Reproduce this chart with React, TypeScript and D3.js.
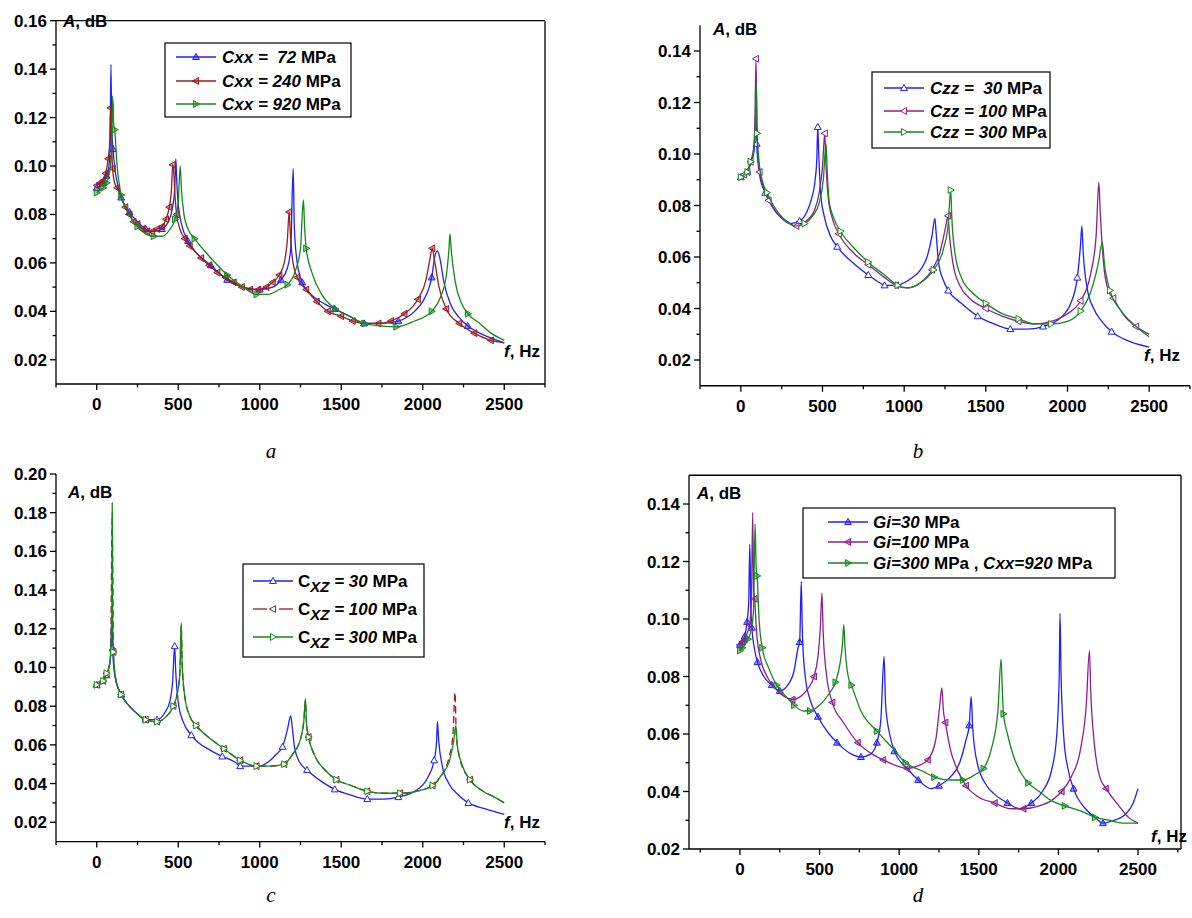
import React from 'react';
import * as d3 from 'd3';

// ---------------- DATA ----------------
// each point: [frequency Hz, amplitude dB, marker flag]
const xTickValues = [0, 500, 1000, 1500, 2000, 2500];
const xMinorValues = [-250, 250, 750, 1250, 1750, 2250, 2750];

const yTicksA = [0.02, 0.04, 0.06, 0.08, 0.1, 0.12, 0.14, 0.16];
const yTicksB = [0.02, 0.04, 0.06, 0.08, 0.1, 0.12, 0.14];
const yTicksC = [0.02, 0.04, 0.06, 0.08, 0.1, 0.12, 0.14, 0.16, 0.18, 0.2];
const yTicksD = [0.02, 0.04, 0.06, 0.08, 0.1, 0.12, 0.14];

// Panel a
const aBlue = [[0,0.091,1],[20,0.0915],[40,0.093,1],[60,0.096,1],[75,0.100],[82,0.108],[87,0.142],[92,0.115],[100,0.107,1],[115,0.097],[130,0.092],[150,0.087,1],[200,0.081,1],[250,0.077],[300,0.074,1],[350,0.073],[400,0.074,1],[440,0.077],[465,0.083],[478,0.090],[485,0.103],[490,0.095],[500,0.084],[520,0.076],[560,0.069,1],[600,0.065],[700,0.059,1],[800,0.053,1],[900,0.050],[1000,0.049,1],[1080,0.050],[1130,0.053,1],[1170,0.058],[1190,0.066],[1205,0.099],[1212,0.075],[1230,0.060],[1260,0.052,1],[1300,0.048],[1400,0.043],[1460,0.041,1],[1550,0.038],[1640,0.035,1],[1750,0.035],[1850,0.036,1],[1950,0.040],[2000,0.044],[2040,0.050],[2055,0.054,1],[2075,0.063],[2090,0.065],[2105,0.062],[2130,0.052],[2170,0.043],[2230,0.037],[2275,0.034,1],[2350,0.031],[2500,0.027]];
const aRed = [[0,0.092,1],[20,0.093,1],[40,0.094,1],[55,0.097,1],[70,0.103,1],[80,0.110],[85,0.124,1],[90,0.112],[97,0.099,1],[110,0.093],[125,0.091,1],[150,0.087],[175,0.083,1],[200,0.080,1],[225,0.077,1],[250,0.076,1],[280,0.074,1],[310,0.073,1],[340,0.073,1],[370,0.074,1],[400,0.075,1],[425,0.078,1],[445,0.083,1],[458,0.090],[466,0.1005,1],[472,0.098],[478,0.090],[490,0.080,1],[510,0.074],[540,0.070,1],[570,0.067,1],[600,0.065],[640,0.062,1],[690,0.059,1],[740,0.056,1],[790,0.054,1],[840,0.052,1],[890,0.050,1],[940,0.049,1],[990,0.049,1],[1040,0.050,1],[1080,0.052,1],[1120,0.055,1],[1150,0.060],[1170,0.070],[1180,0.081,1],[1188,0.072],[1200,0.062],[1230,0.054,1],[1285,0.049,1],[1350,0.044,1],[1417,0.040,1],[1499,0.038,1],[1570,0.036,1],[1650,0.035],[1728,0.035,1],[1805,0.036,1],[1888,0.039,1],[1970,0.045,1],[2020,0.053],[2045,0.062],[2058,0.066,1],[2070,0.062],[2100,0.050],[2144,0.041,1],[2224,0.035,1],[2316,0.031,1],[2418,0.028,1],[2500,0.027]];
const aGreen = [[0,0.089,1],[20,0.090],[40,0.091,1],[60,0.093,1],[80,0.098],[90,0.105],[98,0.129],[103,0.118],[110,0.115,1],[125,0.100],[150,0.088,1],[200,0.080],[250,0.075,1],[300,0.072],[350,0.071,1],[400,0.071],[450,0.074],[480,0.078,1],[500,0.085],[512,0.100],[520,0.090],[535,0.080],[560,0.074],[600,0.070,1],[700,0.062],[800,0.055,1],[900,0.050],[980,0.047,1],[1050,0.047],[1120,0.049],[1170,0.051,1],[1220,0.057],[1250,0.066],[1268,0.086],[1275,0.075],[1285,0.066,1],[1320,0.056],[1380,0.047],[1464,0.041,1],[1550,0.038],[1642,0.035,1],[1740,0.034],[1838,0.0336,1],[1950,0.036],[2055,0.040,1],[2110,0.046],[2145,0.055],[2160,0.065],[2167,0.072],[2175,0.065],[2200,0.052],[2240,0.043],[2277,0.039,1],[2350,0.035],[2420,0.031],[2500,0.028]];

// Panel b
const bBlue = [[0,0.091,1],[20,0.0915],[40,0.093,1],[60,0.096],[75,0.099],[85,0.104],[92,0.118],[97,0.104,1],[105,0.097],[120,0.090],[150,0.085,1],[200,0.079],[250,0.075],[300,0.073],[360,0.074,1],[400,0.077],[430,0.082],[455,0.090],[465,0.098],[471,0.1105,1],[477,0.100],[490,0.084],[510,0.076],[550,0.068],[590,0.064,1],[700,0.057],[780,0.053,1],[850,0.050],[880,0.049,1],[950,0.049],[1000,0.050],[1050,0.052],[1100,0.055],[1140,0.060],[1170,0.068],[1188,0.075],[1195,0.070],[1210,0.058],[1240,0.051],[1270,0.047,1],[1350,0.042],[1450,0.037,1],[1550,0.034],[1650,0.032,1],[1750,0.032],[1850,0.033,1],[1950,0.036],[2020,0.042],[2060,0.052,1],[2080,0.065],[2088,0.072],[2095,0.063],[2120,0.048],[2160,0.040],[2210,0.035],[2270,0.031,1],[2350,0.028],[2500,0.025]];
const bPurple = [[0,0.091],[20,0.092,1],[40,0.093,1],[60,0.097,1],[75,0.100],[85,0.110],[93,0.137,1],[98,0.112],[105,0.100],[115,0.093,1],[140,0.087],[170,0.082,1],[220,0.077],[280,0.074],[340,0.072,1],[400,0.074],[450,0.078],[480,0.085],[500,0.095],[514,0.108,1],[520,0.098],[535,0.083],[560,0.075],[600,0.069,1],[700,0.061],[780,0.057,1],[880,0.052],[950,0.049,1],[1020,0.048],[1100,0.050],[1170,0.055,1],[1220,0.062],[1255,0.072],[1268,0.076,1],[1278,0.068],[1300,0.057],[1340,0.049],[1400,0.044],[1500,0.040,1],[1600,0.037],[1700,0.035,1],[1800,0.034],[1900,0.035],[2000,0.038],[2080,0.043,1],[2140,0.053],[2175,0.068],[2192,0.089],[2200,0.078],[2220,0.058],[2250,0.047],[2280,0.044,1],[2350,0.037],[2420,0.033,1],[2500,0.030]];
const bGreen = [[0,0.091,1],[20,0.092],[40,0.093,1],[60,0.097,1],[80,0.103],[90,0.112],[95,0.127],[100,0.108,1],[110,0.098],[130,0.090],[160,0.085,1],[200,0.080],[260,0.075],[330,0.072],[390,0.073,1],[440,0.076],[480,0.081],[505,0.090],[522,0.104],[528,0.095],[540,0.082],[570,0.075],[610,0.070,1],[700,0.063],[780,0.058,1],[880,0.053],[960,0.049,1],[1020,0.048],[1100,0.050],[1180,0.055,1],[1240,0.063],[1270,0.073],[1285,0.086,1],[1292,0.075],[1310,0.062],[1350,0.052],[1420,0.046],[1500,0.042,1],[1600,0.038],[1700,0.036,1],[1800,0.034],[1900,0.034,1],[2000,0.035],[2080,0.039,1],[2140,0.046],[2190,0.058],[2213,0.066],[2225,0.058],[2260,0.047,1],[2330,0.039],[2420,0.033],[2500,0.029]];

// Panel c
const cBlue = [[0,0.091,1],[20,0.0915],[40,0.093],[60,0.096,1],[75,0.100],[85,0.106],[92,0.125],[97,0.110,1],[105,0.100],[120,0.092],[150,0.086,1],[200,0.080],[250,0.076],[300,0.073,1],[370,0.073,1],[420,0.077],[450,0.083],[465,0.092],[478,0.111,1],[485,0.097],[500,0.082],[530,0.072],[580,0.065,1],[700,0.057],[770,0.054,1],[850,0.051],[880,0.049,1],[950,0.049],[1000,0.049],[1050,0.051],[1100,0.055],[1140,0.059,1],[1170,0.068],[1190,0.075],[1198,0.070],[1215,0.058],[1245,0.051],[1290,0.047,1],[1380,0.041],[1460,0.037,1],[1560,0.034],[1660,0.032,1],[1760,0.032],[1850,0.033,1],[1950,0.036],[2030,0.043],[2070,0.052,1],[2085,0.062],[2090,0.072],[2098,0.062],[2120,0.049],[2160,0.040],[2220,0.034],[2280,0.030,1],[2380,0.027],[2500,0.024]];
const cRed = [[0,0.091,1],[20,0.092],[40,0.093,1],[60,0.097,1],[75,0.100],[85,0.107],[95,0.180],[102,0.108,1],[115,0.095],[150,0.086,1],[200,0.080],[250,0.076],[300,0.073,1],[370,0.072,1],[430,0.075],[470,0.080,1],[495,0.087],[510,0.097],[518,0.122],[524,0.102],[540,0.085],[570,0.075],[610,0.070,1],[700,0.063],[780,0.058,1],[880,0.052,1],[980,0.049,1],[1060,0.049],[1150,0.050,1],[1200,0.055],[1250,0.063],[1272,0.074],[1280,0.083],[1287,0.071],[1300,0.064,1],[1340,0.054],[1400,0.047],[1470,0.042,1],[1560,0.039],[1660,0.036,1],[1760,0.035],[1860,0.035,1],[1960,0.036],[2060,0.039,1],[2120,0.045],[2160,0.053],[2185,0.065],[2198,0.087],[2206,0.065],[2230,0.052],[2290,0.042,1],[2370,0.036],[2440,0.033],[2500,0.030]];
const cGreen = [[0,0.091,1],[20,0.092],[40,0.093,1],[60,0.097,1],[75,0.100],[85,0.107],[92,0.125],[95,0.185],[98,0.125],[102,0.108,1],[115,0.095],[150,0.086,1],[200,0.080],[250,0.076],[300,0.073,1],[370,0.072,1],[430,0.075],[470,0.080,1],[495,0.087],[510,0.097],[518,0.123],[524,0.102],[540,0.085],[570,0.075],[610,0.070,1],[700,0.063],[780,0.058,1],[880,0.052,1],[980,0.049,1],[1060,0.049],[1150,0.050,1],[1200,0.055],[1250,0.063],[1272,0.074],[1280,0.084],[1287,0.071],[1300,0.064,1],[1340,0.054],[1400,0.047],[1470,0.042,1],[1560,0.039],[1660,0.036,1],[1760,0.035],[1860,0.035,1],[1960,0.036],[2060,0.039,1],[2120,0.045],[2165,0.052],[2190,0.062],[2203,0.070],[2212,0.060],[2240,0.050],[2290,0.042,1],[2370,0.036],[2440,0.033],[2500,0.030]];

// Panel d
const dBlue = [[0,0.091,1],[15,0.092,1],[30,0.094,1],[45,0.099,1],[55,0.106],[62,0.126],[68,0.105],[75,0.097,1],[90,0.090],[110,0.085,1],[150,0.080],[200,0.077,1],[250,0.075,1],[300,0.077],[340,0.082],[365,0.090],[375,0.092,1],[385,0.113],[392,0.095],[410,0.080],[440,0.072],[490,0.066,1],[560,0.060],[610,0.057,1],[700,0.053],[760,0.052,1],[820,0.053],[860,0.057,1],[885,0.065],[905,0.087],[915,0.070],[940,0.060],[970,0.054,1],[1050,0.048],[1120,0.044,1],[1200,0.041],[1250,0.042,1],[1320,0.045],[1380,0.050],[1420,0.058],[1440,0.063,1],[1452,0.073],[1462,0.062],[1490,0.050],[1550,0.042],[1600,0.039],[1680,0.036,1],[1760,0.034],[1830,0.036,1],[1900,0.040],[1960,0.048],[1990,0.060],[2005,0.080],[2010,0.102],[2017,0.080],[2035,0.058],[2060,0.048],[2095,0.041,1],[2170,0.034],[2230,0.031],[2280,0.029,1],[2350,0.030],[2420,0.032],[2470,0.036],[2500,0.041]];
const dPurple = [[0,0.091,1],[15,0.092,1],[30,0.093,1],[45,0.095],[60,0.098,1],[72,0.106],[80,0.137],[86,0.110],[92,0.107,1],[105,0.095],[130,0.086],[170,0.080],[220,0.076],[280,0.073],[330,0.072,1],[380,0.073],[430,0.076],[465,0.080,1],[490,0.087],[505,0.097],[515,0.109],[523,0.095],[545,0.080],[580,0.071,1],[650,0.064],[740,0.057,1],[830,0.053],[900,0.051,1],[980,0.049],[1050,0.048,1],[1120,0.049],[1180,0.051,1],[1230,0.058],[1255,0.070],[1268,0.076],[1278,0.068],[1290,0.064,1],[1320,0.055],[1370,0.047],[1420,0.042,1],[1500,0.038],[1600,0.036,1],[1700,0.034],[1780,0.034,1],[1880,0.035],[1960,0.037],[2020,0.040,1],[2080,0.045],[2140,0.055],[2175,0.070],[2195,0.089],[2203,0.075],[2225,0.057],[2260,0.045],[2300,0.041,1],[2380,0.035],[2440,0.031],[2500,0.029]];
const dGreen = [[0,0.089,1],[15,0.090,1],[30,0.091],[50,0.093,1],[70,0.096],[85,0.103],[95,0.133],[102,0.118],[108,0.115,1],[120,0.100],[140,0.090,1],[180,0.083],[230,0.077,1],[290,0.073],[340,0.070,1],[400,0.068],[440,0.068,1],[500,0.070],[560,0.074],[600,0.078,1],[630,0.085],[645,0.092],[652,0.098],[660,0.090],[680,0.080],[700,0.077,1],[760,0.068],[860,0.061,1],[960,0.055],[1040,0.050,1],[1150,0.047],[1220,0.045,1],[1320,0.044],[1400,0.044,1],[1480,0.046],[1530,0.048,1],[1580,0.055],[1620,0.068],[1640,0.086],[1648,0.075],[1655,0.067,1],[1680,0.060],[1720,0.052],[1770,0.046],[1810,0.043,1],[1880,0.040],[1950,0.037],[2040,0.035,1],[2150,0.033],[2230,0.031,1],[2320,0.030],[2400,0.029],[2500,0.029]];

const legendA = ['Cxx =\u00a0 72', 'Cxx = 240', 'Cxx = 920'];
const legendB = ['Czz =\u00a0 30', 'Czz = 100', 'Czz = 300'];
const legendC = ['30', '100', '300'];
const legendD = ['Gi=30', 'Gi=100', 'Gi=300'];
const unitLabel = 'MPa';
const captions = ['a', 'b', 'c', 'd'];

// ---------------- STYLE ----------------
const BLUE = '#1f1fff';
const RED = '#9a1c1c';
const GREEN = '#13891a';
const PURPLE = '#8e1f8e';
const FONT = '"Liberation Sans", Arial, sans-serif';
const SERIF = '"Liberation Serif", "Times New Roman", serif';

type Pt = number[];
type Series = { data: Pt[]; color: string; marker: 'up' | 'left' | 'right'; dash?: string };

function markerPath(kind: string, s: number) {
  if (kind === 'up') return `M0,${-s}L${s * 0.95},${s * 0.7}L${-s * 0.95},${s * 0.7}Z`;
  if (kind === 'left') return `M${-s},0L${s * 0.7},${-s * 0.95}L${s * 0.7},${s * 0.95}Z`;
  return `M${s},0L${-s * 0.7},${-s * 0.95}L${-s * 0.7},${s * 0.95}Z`;
}

type PanelCfg = {
  xDom: [number, number];
  xRange: [number, number];
  yDom: [number, number];
  yRange: [number, number];
  yTicks: number[];
  frameTop: boolean;
  frameRight: boolean;
  fillOpacity: number;
  series: Series[];
  aLabel: [number, number];
  fLabel: [number, number];
  caption: [number, number];
  captionText: string;
  legend: { x: number; y: number; w: number; h: number; rows: number[]; lineX: number; textX: number };
  legendKind: 'a' | 'b' | 'c' | 'd';
};

const panels: PanelCfg[] = [
  {
    xDom: [-250, 2750], xRange: [56, 545], yDom: [0.01, 0.16], yRange: [384, 20.7], yTicks: yTicksA,
    frameTop: true, frameRight: true, fillOpacity: 0.45,
    series: [
      { data: aBlue, color: BLUE, marker: 'up' },
      { data: aRed, color: RED, marker: 'left' },
      { data: aGreen, color: GREEN, marker: 'right' },
    ],
    aLabel: [63, 27], fLabel: [540, 357], caption: [271, 458], captionText: captions[0],
    legend: { x: 165, y: 43, w: 186, h: 74, rows: [57, 81, 104], lineX: 176, textX: 222 },
    legendKind: 'a',
  },
  {
    xDom: [-250, 2750], xRange: [700, 1190], yDom: [0.01, 0.15], yRange: [385.75, 25.25], yTicks: yTicksB,
    frameTop: false, frameRight: false, fillOpacity: 0,
    series: [
      { data: bBlue, color: BLUE, marker: 'up' },
      { data: bPurple, color: PURPLE, marker: 'left' },
      { data: bGreen, color: GREEN, marker: 'right' },
    ],
    aLabel: [713, 35], fLabel: [1180, 361], caption: [918, 458], captionText: captions[1],
    legend: { x: 872, y: 72, w: 178, h: 76, rows: [88, 111, 132], lineX: 884, textX: 930 },
    legendKind: 'b',
  },
  {
    xDom: [-250, 2750], xRange: [56, 545], yDom: [0.01, 0.2], yRange: [841.6, 474], yTicks: yTicksC,
    frameTop: false, frameRight: false, fillOpacity: 0,
    series: [
      { data: cBlue, color: BLUE, marker: 'up' },
      { data: cRed, color: RED, marker: 'left', dash: '7,4' },
      { data: cGreen, color: GREEN, marker: 'right' },
    ],
    aLabel: [68, 498], fLabel: [540, 828], caption: [271, 902], captionText: captions[2],
    legend: { x: 243, y: 564, w: 181, h: 93, rows: [581, 609, 637], lineX: 253, textX: 298 },
    legendKind: 'c',
  },
  {
    xDom: [-320, 2770], xRange: [689, 1181], yDom: [0.02, 0.15], yRange: [849, 475.25], yTicks: yTicksD,
    frameTop: true, frameRight: true, fillOpacity: 0.45,
    series: [
      { data: dBlue, color: BLUE, marker: 'up' },
      { data: dPurple, color: PURPLE, marker: 'left' },
      { data: dGreen, color: GREEN, marker: 'right' },
    ],
    aLabel: [697, 499], fLabel: [1187, 842], caption: [918, 902], captionText: captions[3],
    legend: { x: 803, y: 508, w: 312, h: 70, rows: [522, 542, 563], lineX: 828, textX: 873 },
    legendKind: 'd',
  },
];

function LegendText({ kind, i, x, y }: { kind: string; i: number; x: number; y: number }) {
  const base = { fontFamily: FONT, fontWeight: 700, fontSize: 17 } as any;
  if (kind === 'a' || kind === 'b') {
    const lab = kind === 'a' ? legendA[i] : legendB[i];
    return (
      <text x={x} y={y} {...base} style={{ whiteSpace: 'pre' }}>
        <tspan fontStyle="italic">{lab}</tspan>
        <tspan>{' ' + unitLabel}</tspan>
      </text>
    );
  }
  if (kind === 'c') {
    return (
      <text x={x} y={y} {...base} style={{ whiteSpace: 'pre' }}>
        <tspan>C</tspan>
        <tspan fontStyle="italic" fontSize={15} dy={5}>XZ</tspan>
        <tspan fontStyle="italic" dy={-5}>{' = ' + legendC[i]}</tspan>
        <tspan>{' ' + unitLabel}</tspan>
      </text>
    );
  }
  return (
    <text x={x} y={y} {...base} style={{ whiteSpace: 'pre' }}>
      <tspan fontStyle="italic">{legendD[i]}</tspan>
      <tspan>{' ' + unitLabel}</tspan>
      {i === 2 ? (
        <>
          <tspan>{' , '}</tspan>
          <tspan fontStyle="italic">Cxx=920</tspan>
          <tspan>{' ' + unitLabel}</tspan>
        </>
      ) : null}
    </text>
  );
}

function Panel({ cfg }: { cfg: PanelCfg }) {
  const x = d3.scaleLinear().domain(cfg.xDom).range(cfg.xRange);
  const y = d3.scaleLinear().domain(cfg.yDom).range(cfg.yRange);
  const line = d3
    .line<Pt>()
    .x((d) => x(d[0]))
    .y((d) => y(d[1]))
    .curve(d3.curveMonotoneX);
  const [x0, x1] = cfg.xRange;
  const [yB, yT] = cfg.yRange;
  const yMinor: number[] = [];
  for (let k = 0; k < cfg.yTicks.length; k++) {
    const v = cfg.yTicks[k] + 0.01;
    if (v < cfg.yDom[1] - 1e-9) yMinor.push(v);
  }
  if (cfg.yTicks[0] - 0.01 > cfg.yDom[0] + 1e-9) yMinor.unshift(cfg.yTicks[0] - 0.01);
  const fmt = d3.format('.2f');
  const ax = { stroke: '#000', strokeWidth: 1.3 };
  return (
    <g>
      {cfg.series.map((s, si) => (
        <g key={si}>
          <path d={line(s.data) || ''} fill="none" stroke={s.color} strokeWidth={1.3} strokeDasharray={s.dash} />
          {s.data
            .filter((p) => p[2])
            .map((p, pi) => (
              <path
                key={pi}
                d={markerPath(s.marker, 3.6)}
                transform={`translate(${x(p[0])},${y(p[1])})`}
                fill={cfg.fillOpacity > 0 ? s.color : '#fff'}
                fillOpacity={cfg.fillOpacity > 0 ? cfg.fillOpacity : 1}
                stroke={s.color}
                strokeWidth={1}
              />
            ))}
        </g>
      ))}
      <line x1={x0} x2={x0} y1={yB} y2={yT} {...ax} />
      <line x1={x0} x2={x1} y1={yB} y2={yB} {...ax} />
      {cfg.frameTop && <line x1={x0} x2={x1} y1={yT} y2={yT} {...ax} />}
      {cfg.frameRight && <line x1={x1} x2={x1} y1={yB} y2={yT} {...ax} />}
      {cfg.yTicks.map((t) => (
        <g key={t}>
          <line x1={x0 - 6} x2={x0} y1={y(t)} y2={y(t)} {...ax} />
          <text x={x0 - 9} y={y(t) + 6} textAnchor="end" fontFamily={FONT} fontWeight={700} fontSize={17}>
            {fmt(t)}
          </text>
        </g>
      ))}
      {yMinor.map((t) => (
        <line key={'m' + t} x1={x0 - 3.5} x2={x0} y1={y(t)} y2={y(t)} {...ax} />
      ))}
      {xTickValues.map((t) => (
        <g key={t}>
          <line x1={x(t)} x2={x(t)} y1={yB} y2={yB + 6} {...ax} />
          <text x={x(t)} y={yB + 26} textAnchor="middle" fontFamily={FONT} fontWeight={700} fontSize={17}>
            {t}
          </text>
        </g>
      ))}
      {xMinorValues
        .filter((t) => t >= cfg.xDom[0] && t <= cfg.xDom[1])
        .map((t) => (
          <line key={'xm' + t} x1={x(t)} x2={x(t)} y1={yB} y2={yB + 3.5} {...ax} />
        ))}
      <text x={cfg.aLabel[0]} y={cfg.aLabel[1]} fontFamily={FONT} fontWeight={700} fontSize={17} style={{ whiteSpace: 'pre' }}>
        <tspan fontStyle="italic">A</tspan>
        <tspan>, dB</tspan>
      </text>
      <text x={cfg.fLabel[0]} y={cfg.fLabel[1]} textAnchor="end" fontFamily={FONT} fontWeight={700} fontSize={17} style={{ whiteSpace: 'pre' }}>
        <tspan fontStyle="italic">f</tspan>
        <tspan>, Hz</tspan>
      </text>
      <rect x={cfg.legend.x} y={cfg.legend.y} width={cfg.legend.w} height={cfg.legend.h} fill="#fff" stroke="#000" strokeWidth={1.2} />
      {cfg.series.map((s, i) => {
        const ry = cfg.legend.rows[i];
        const lx = cfg.legend.lineX;
        return (
          <g key={'lg' + i}>
            {s.dash ? (
              <>
                <line x1={lx} x2={lx + 14} y1={ry} y2={ry} stroke={s.color} strokeWidth={1.3} />
                <line x1={lx + 26} x2={lx + 40} y1={ry} y2={ry} stroke={s.color} strokeWidth={1.3} />
              </>
            ) : (
              <line x1={lx} x2={lx + 40} y1={ry} y2={ry} stroke={s.color} strokeWidth={1.3} />
            )}
            <path
              d={markerPath(s.marker, 3.6)}
              transform={`translate(${lx + 20},${ry})`}
              fill={cfg.fillOpacity > 0 ? s.color : '#fff'}
              fillOpacity={cfg.fillOpacity > 0 ? cfg.fillOpacity : 1}
              stroke={s.color}
              strokeWidth={1}
            />
            <LegendText kind={cfg.legendKind} i={i} x={cfg.legend.textX} y={ry + 6} />
          </g>
        );
      })}
      <text x={cfg.caption[0]} y={cfg.caption[1]} textAnchor="middle" fontFamily={SERIF} fontStyle="italic" fontSize={21}>
        {cfg.captionText}
      </text>
    </g>
  );
}

export default function App() {
  return (
    <svg
      width={1192}
      height={918}
      viewBox="0 0 1192 918"
      style={{ position: 'absolute', left: 0, top: 0, background: '#fff' }}
    >
      <rect x={0} y={0} width={1192} height={918} fill="#fff" />
      {panels.map((p, i) => (
        <Panel key={i} cfg={p} />
      ))}
    </svg>
  );
}
